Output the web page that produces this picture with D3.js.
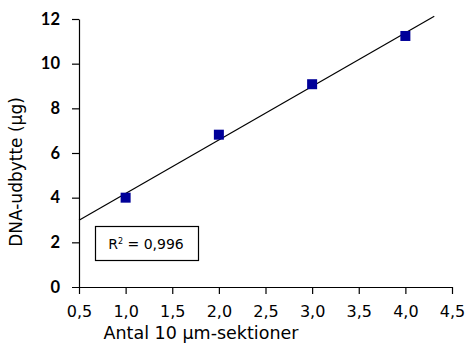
<!DOCTYPE html>
<html>
<head>
<meta charset="utf-8">
<script src="https://cdn.jsdelivr.net/npm/d3@7"></script>
<style>
  body { margin: 0; background: #fff; }
  svg text { font-family: "DejaVu Sans", sans-serif; fill: #000; }
  .axis path, .axis line { stroke: #000; stroke-width: 1.2; }
</style>
</head>
<body>
<svg id="chart" width="466" height="346"></svg>
<script>
// data
var sections = [1.0, 2.0, 3.0, 4.0];
var yieldUg = [4.0, 6.82, 9.08, 11.24];
var xTicks = [0.5, 1.0, 1.5, 2.0, 2.5, 3.0, 3.5, 4.0, 4.5];
var yTicks = [0, 2, 4, 6, 8, 10, 12];
var lineRange = [0.5, 4.31];
var r2Label = "0,996";

var svg = d3.select("#chart");
var x = d3.scaleLinear().domain([0.5, 4.5]).range([79, 452]);
var y = d3.scaleLinear().domain([0, 12]).range([287, 19]);
var fmt = function(d) { return d3.format(".1f")(d).replace(".", ","); };

// x axis
var gx = svg.append("g").attr("class", "axis")
  .attr("transform", "translate(0,287)")
  .call(d3.axisBottom(x).tickValues(xTicks).tickSize(7).tickSizeOuter(0).tickFormat(fmt));
gx.select(".domain").attr("d", "M72,0.5H452");
gx.selectAll("text").attr("y", 30).attr("dy", 0).style("font-size", "16px");

// y axis
var gy = svg.append("g").attr("class", "axis")
  .attr("transform", "translate(79,0)")
  .call(d3.axisLeft(y).tickValues(yTicks).tickSize(7).tickSizeOuter(0));
gy.selectAll("text").attr("x", -19)
  .style("font-family", "Lato, sans-serif").style("font-size", "16.5px").style("font-weight", "bold");
gy.selectAll(".tick").filter(function(d) { return d === 0; }).select("line").remove();

// least squares trend line
var mx = d3.mean(sections), my = d3.mean(yieldUg);
var slope = d3.sum(sections, function(d, i) { return (d - mx) * (yieldUg[i] - my); }) /
            d3.sum(sections, function(d) { return (d - mx) * (d - mx); });
var icpt = my - slope * mx;
svg.append("path")
  .attr("d", d3.line().x(function(d) { return x(d); }).y(function(d) { return y(icpt + slope * d); })(lineRange))
  .attr("stroke", "#000").attr("stroke-width", 1.2).attr("fill", "none");

// points
svg.selectAll("rect.pt").data(sections).enter().append("rect")
  .attr("class", "pt")
  .attr("x", function(d) { return x(d) - 5; })
  .attr("y", function(d, i) { return y(yieldUg[i]) - 5; })
  .attr("width", 10).attr("height", 10)
  .attr("fill", "#000099");

// R² box
svg.append("rect").attr("x", 95.5).attr("y", 226.5).attr("width", 103).attr("height", 34)
  .attr("fill", "#fff").attr("stroke", "#000").attr("stroke-width", 1.2);
var t = svg.append("text").attr("x", 146).attr("y", 249).attr("text-anchor", "middle").style("font-size", "14px");
t.append("tspan").text("R");
t.append("tspan").text("2").attr("dy", -5).style("font-size", "8px");
t.append("tspan").text(" = " + r2Label).attr("dy", 5);

// axis titles
svg.append("text").attr("x", 201).attr("y", 339).attr("text-anchor", "middle")
  .style("font-size", "17.5px").text("Antal 10 µm-sektioner");
svg.append("text").attr("transform", "translate(22,172) rotate(-90)").attr("text-anchor", "middle")
  .style("font-size", "17px").text("DNA-udbytte (µg)");
</script>
</body>
</html>
